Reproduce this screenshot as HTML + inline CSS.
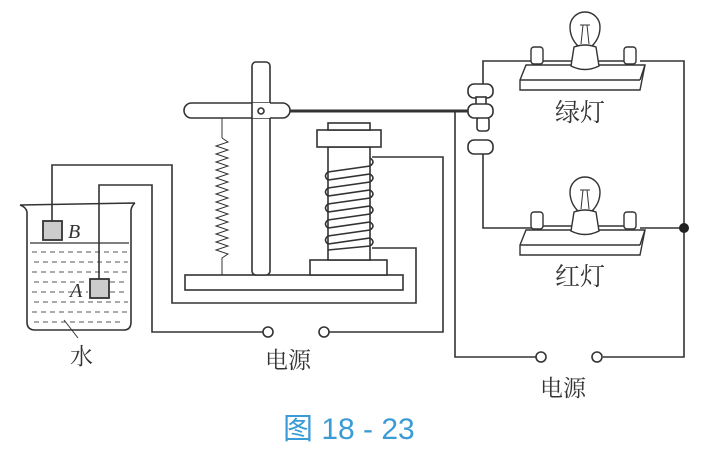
<!DOCTYPE html>
<html><head><meta charset="utf-8"><style>
html,body{margin:0;padding:0;background:#fff;}
svg{display:block;}
text{font-family:"Liberation Sans","Noto Sans CJK SC",sans-serif;}
.cn{font-family:"Liberation Serif","Noto Serif CJK SC",serif;}
</style></head><body>
<svg width="719" height="461" viewBox="0 0 719 461" xmlns="http://www.w3.org/2000/svg">
<g fill="none" stroke="#333" stroke-width="1.6">
<path d="M20,205 Q26,207 27,212 L27,322 Q27,330 35,330 L124,330 Q131,330 131,322 L131,210 Q132,205 135,203"/>
<path d="M20,205 L135,203"/>
<line x1="30" y1="243" x2="129" y2="243" stroke-width="1.2"/>
</g>
<g stroke="#555" stroke-width="1" stroke-dasharray="5,4">
<line x1="32" y1="252" x2="128" y2="252"/><line x1="34" y1="262" x2="128" y2="262"/>
<line x1="32" y1="272" x2="128" y2="272"/><line x1="34" y1="282" x2="88" y2="282"/>
<line x1="32" y1="292" x2="88" y2="292"/><line x1="34" y1="302" x2="128" y2="302"/>
<line x1="32" y1="312" x2="128" y2="312"/><line x1="34" y1="322" x2="124" y2="322"/>
<line x1="110" y1="282" x2="128" y2="282"/><line x1="110" y1="292" x2="128" y2="292"/>
</g>
<rect x="43" y="221" width="19" height="19" fill="#ccc" stroke="#333" stroke-width="1.8"/>
<rect x="90" y="279" width="19" height="19" fill="#ccc" stroke="#333" stroke-width="1.8"/>
<text x="68" y="238" font-family="Liberation Serif,serif" font-style="italic" font-size="20" fill="#333" style="font-family:'Liberation Serif',serif">B</text>
<text x="70" y="297" font-style="italic" font-size="20" fill="#333" style="font-family:'Liberation Serif',serif">A</text>
<line x1="64" y1="320" x2="78" y2="338" stroke="#333" stroke-width="1"/>
<text class="cn" x="70" y="364" font-size="23" fill="#333">水</text>
<g fill="none" stroke="#333" stroke-width="1.6">
<polyline points="52,221 52,165 172,165 172,303 416,303 416,248 372,248"/>
<polyline points="99,279 99,185 152,185 152,332 263,332"/>
<polyline points="329,332 443,332 443,157 372,157"/>
<polyline points="483,84 483,61 533,61"/>
<polyline points="483,154 483,228 533,228"/>
<polyline points="640,61 684,61 684,357 603,357"/>
<polyline points="640,228 684,228"/>
<polyline points="536,357 455,357 455,111"/>
<circle cx="268" cy="332" r="5" fill="#fff"/>
<circle cx="324" cy="332" r="5" fill="#fff"/>
<circle cx="541" cy="357" r="5" fill="#fff"/>
<circle cx="597" cy="357" r="5" fill="#fff"/>
</g>
<circle cx="684" cy="228" r="5" fill="#222"/>
<g fill="#fff" stroke="#333" stroke-width="1.6">
<rect x="185" y="275" width="218" height="15"/>
<rect x="252" y="62" width="18" height="213" rx="4"/>
<rect x="184" y="103" width="106" height="15" rx="7.5"/>
<rect x="252" y="103" width="18" height="15" stroke="none"/>
<line x1="252" y1="103" x2="252" y2="118"/>
<circle cx="261" cy="111" r="3"/>
<rect x="310" y="260" width="77" height="15"/>
<rect x="328" y="147" width="42" height="113"/>
<rect x="317" y="130" width="64" height="17"/>
<rect x="328" y="123" width="42" height="7"/>
</g>
<line x1="290" y1="111" x2="476" y2="111" stroke="#333" stroke-width="3"/>
<line x1="222" y1="118" x2="222" y2="138" stroke="#333" stroke-width="1"/>
<polyline fill="none" stroke="#333" stroke-width="1" points="222,138 228,142 216,146 228,150 216,154 228,158 216,162 228,166 216,170 228,174 216,178 228,182 216,186 228,190 216,194 228,198 216,202 228,206 216,210 228,214 216,218 228,222 216,226 228,230 216,234 228,238 216,242 228,246 216,250 228,254 222,258 222,275"/>
<g fill="none" stroke="#333" stroke-width="1.6">
<path d="M370,158 Q376,162 370,166 L328,172 Q323,176 328,180 L370,174 Q376,178 370,182 L328,188 Q323,192 328,196 L370,190 Q376,194 370,198 L328,204 Q323,208 328,212 L370,206 Q376,210 370,214 L328,220 Q323,224 328,228 L370,222 Q376,226 370,230 L328,236 Q323,240 328,244 L370,238 Q376,242 370,246 L328,250"/>
</g>
<g fill="#fff" stroke="#333" stroke-width="1.6">
<rect x="477" y="117" width="12" height="14" rx="3"/>
<rect x="468" y="84" width="25" height="14" rx="6"/>
<rect x="476" y="97" width="10" height="8"/>
<rect x="468" y="104" width="25" height="14" rx="6"/>
<rect x="468" y="140" width="25" height="14" rx="6"/>
</g>
<g id="lamp" fill="#fff" stroke="#333" stroke-width="1.4">
<path d="M520,80 L526,65 L645,65 L640,90 L520,90 Z"/>
<line x1="520" y1="80" x2="640" y2="80"/><line x1="640" y1="80" x2="645" y2="65"/>
<line x1="536" y1="61" x2="630" y2="61"/>
<rect x="531" y="47" width="12" height="17" rx="3"/>
<rect x="624" y="47" width="12" height="17" rx="3"/>
<path d="M578,46 Q570,38 570,27 A15,15 0 1 1 600,27 Q600,38 592,46 Z"/>
<path d="M574,47 Q585,43 596,47 L599,66 Q585,73 571,66 Z"/>
<path d="M581,44 L583,25 L587,25 L589,44 M580,25 L590,25" stroke-width="1"/>
</g>
<use href="#lamp" y="165"/>
<text class="cn" x="555" y="121" font-size="25" fill="#333">绿灯</text>
<text class="cn" x="555" y="285" font-size="25" fill="#333">红灯</text>
<text class="cn" x="265" y="368" font-size="23" fill="#333">电源</text>
<text class="cn" x="540" y="396" font-size="23" fill="#333">电源</text>
<text x="283" y="439" font-size="30" fill="#3b9bd6">图 18 - 23</text>
</svg>
</body></html>
